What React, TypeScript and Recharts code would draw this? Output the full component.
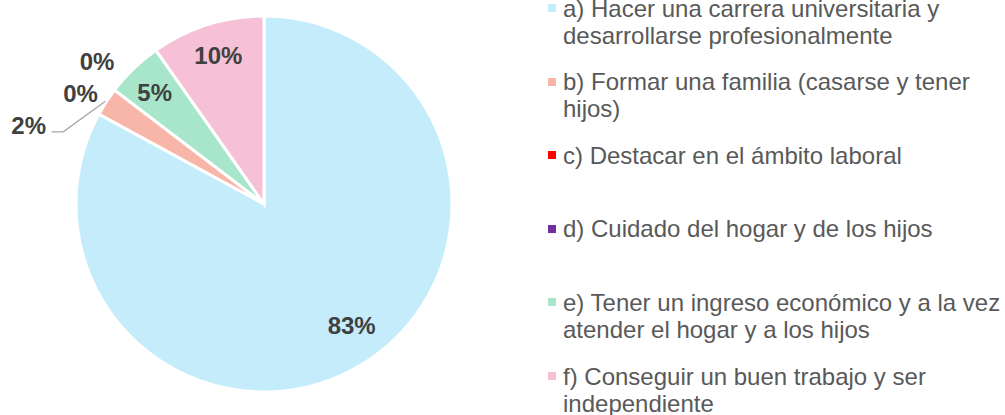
import React from "react";
import { PieChart, Pie, Cell, Legend } from "recharts";

const categories = [
  "a) Hacer una carrera universitaria y desarrollarse profesionalmente",
  "b) Formar una familia (casarse y tener hijos)",
  "c) Destacar en el ámbito laboral",
  "d) Cuidado del hogar y de los hijos",
  "e) Tener un ingreso económico y a la vez atender el hogar y a los hijos",
  "f) Conseguir un buen trabajo y ser independiente",
];
const responses = [34, 1, 0, 0, 2, 4];
const colors = ["#C4ECFA", "#F7B6A8", "#FF0000", "#7030A0", "#A8E6CB", "#F6C1D6"];

// label layout (radius factor relative to outer radius, angular nudge in degrees)
const labelRadius = [0.795, 1.32, 1.14, 1.168, 0.83, 0.828];
const labelShift = [5.2, 14.4, 6.2, -3.2, 0.6, -0.5];
const labelLeader = [false, true, false, false, false, false];

const data = categories.map((name, i) => ({ name, value: responses[i] }));

const FONT = '"Liberation Sans", Arial, sans-serif';
const RAD = Math.PI / 180;

const renderLabel = (props: any) => {
  const { cx, cy, midAngle, outerRadius, percent, index } = props;
  const ang = midAngle + labelShift[index];
  const r = outerRadius * labelRadius[index];
  const x = cx + r * Math.cos(-ang * RAD);
  const y = cy + r * Math.sin(-ang * RAD);
  const text = `${Math.round(percent * 100)}%`;
  let leader = null;
  if (labelLeader[index]) {
    const ex = cx + (outerRadius + 1) * Math.cos(-midAngle * RAD);
    const ey = cy + (outerRadius + 1) * Math.sin(-midAngle * RAD);
    const pts = `${x + 23},${y + 6.7} ${x + 34.6},${y + 6.7} ${ex},${ey}`;
    leader = <polyline points={pts} fill="none" stroke="#A6A6A6" strokeWidth={1.3} />;
  }
  return (
    <g key={`lbl-${index}`}>
      {leader}
      <text
        x={x}
        y={y}
        textAnchor="middle"
        dominantBaseline="central"
        fill="#404040"
        fontFamily={FONT}
        fontWeight="bold"
        fontSize={24}
      >
        {text}
      </text>
    </g>
  );
};

const renderLegend = () => (
  <div
    style={{
      position: "relative",
      width: 457,
      height: 415,
      fontFamily: FONT,
      fontSize: 24,
      lineHeight: "27px",
      color: "#595959",
    }}
  >
    {categories.map((c, i) => (
      <div
        key={c}
        style={{ position: "absolute", left: 0, top: -5.5 + i * 73.6, display: "flex", alignItems: "flex-start" }}
      >
        <span
          style={{
            display: "inline-block",
            width: 8,
            height: 8,
            background: colors[i],
            marginTop: 9.5,
            marginRight: 7,
            flex: "none",
          }}
        />
        <span style={{ width: 442, display: "inline-block" }}>{c}</span>
      </div>
    ))}
  </div>
);

export default function App() {
  return (
    <div style={{ position: "absolute", left: 0, top: 0, width: 1005, height: 415, background: "#fff", overflow: "hidden" }}>
      <PieChart width={1005} height={415} margin={{ top: 0, right: 0, bottom: 0, left: 0 }}>
        <Pie
          data={data}
          dataKey="value"
          nameKey="name"
          cx={264}
          cy={204}
          outerRadius={188}
          startAngle={90}
          endAngle={-270}
          stroke="#FFFFFF"
          strokeWidth={3}
          label={renderLabel}
          labelLine={false}
          isAnimationActive={false}
        >
          {data.map((d, i) => (
            <Cell key={d.name} fill={colors[i]} />
          ))}
        </Pie>
        <Legend
          layout="vertical"
          align="right"
          verticalAlign="top"
          content={renderLegend}
          wrapperStyle={{ position: "absolute", left: 548, top: 0, width: 457, height: 415 }}
        />
      </PieChart>
    </div>
  );
}
